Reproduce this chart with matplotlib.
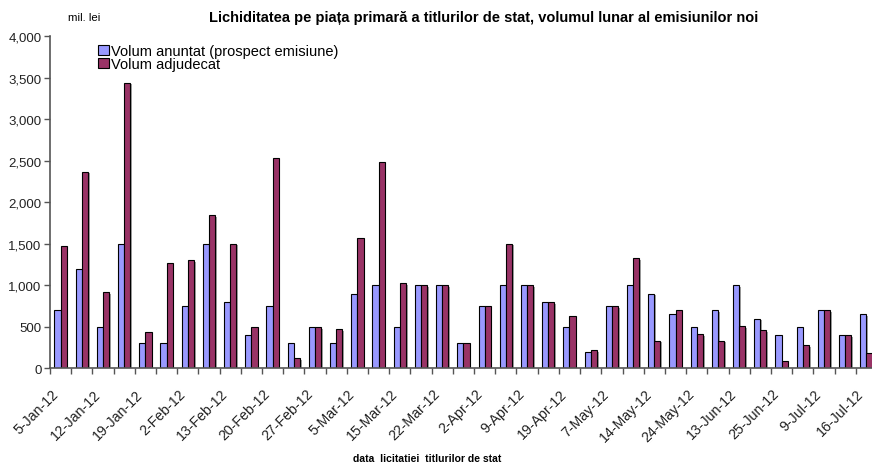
import numpy as np
import matplotlib
matplotlib.use("Agg")
import matplotlib.pyplot as plt
import matplotlib.patheffects as pe
import matplotlib.transforms as mtransforms
from matplotlib.ticker import FuncFormatter, FixedLocator

plt.rcParams['font.family'] = ['Liberation Sans', 'DejaVu Sans']

# labels shown on every second auction date
tick_labels = ["5-Jan-12", "12-Jan-12", "19-Jan-12", "2-Feb-12", "13-Feb-12",
               "20-Feb-12", "27-Feb-12", "5-Mar-12", "15-Mar-12", "22-Mar-12",
               "2-Apr-12", "9-Apr-12", "19-Apr-12", "7-May-12", "14-May-12",
               "24-May-12", "13-Jun-12", "25-Jun-12", "9-Jul-12", "16-Jul-12"]

volum_anuntat = [700, 1200, 500, 1500, 300, 300, 750, 1500, 800, 400,
                 750, 300, 500, 300, 900, 1000, 500, 1000, 1000, 300,
                 750, 1000, 1000, 800, 500, 200, 750, 1000, 900, 650,
                 500, 700, 1000, 600, 400, 500, 700, 400, 650]
volum_adjudecat = [1470, 2370, 915, 3440, 435, 1265, 1300, 1845, 1500, 500,
                   2530, 120, 500, 470, 1565, 2480, 1025, 1000, 1000, 300,
                   750, 1500, 1000, 800, 627, 217, 750, 1325, 335, 700,
                   410, 335, 505, 460, 85, 278, 700, 400, 182]

n = len(volum_anuntat)
x = np.arange(n)
w = 0.29

fig = plt.figure(figsize=(8.72, 4.64), dpi=100)
ax = fig.add_axes([0.0573, 0.204, 1.0057 - 0.0573, 0.9196 - 0.204])

shadow = [pe.SimplePatchShadow(offset=(1.2, -1.2), shadow_rgbFace='#888888', alpha=0.8), pe.Normal()]
b1 = ax.bar(x - w / 2, volum_anuntat, w, color='#9999FF', edgecolor='black',
            linewidth=0.8, label='Volum anuntat (prospect emisiune)')
b2 = ax.bar(x + w / 2, volum_adjudecat, w, color='#993366', edgecolor='black',
            linewidth=0.8, label='Volum adjudecat')
for b in list(b1) + list(b2):
    b.set_path_effects(shadow)

ax.set_xlim(-0.5, n - 0.5)
ax.set_ylim(0, 4000)
ax.set_yticks(np.arange(0, 4001, 500))
ax.yaxis.set_major_formatter(FuncFormatter(lambda v, p: f"{int(v):,}"))

ax.xaxis.set_major_locator(FixedLocator(np.arange(-0.5, n, 1.0)))
ax.set_xticklabels([])
ax.xaxis.set_minor_locator(FixedLocator(x[::2]))
ax.set_xticklabels(tick_labels, minor=True, rotation=45, ha='right',
                   rotation_mode='anchor', fontsize=10.2, color='#222222')
ax.tick_params(axis='x', which='minor', length=0, pad=8)
ax.tick_params(axis='x', which='major', length=4, width=1, color='#555555')
ax.tick_params(axis='y', length=4, width=1, color='#555555', labelsize=9.5,
               labelcolor='#222222', pad=2)

# nudge the rotated date labels left/down like the original
shift = mtransforms.ScaledTranslation(-7 / 72, -5 / 72, fig.dpi_scale_trans)
for lbl in ax.get_xticklabels(minor=True):
    lbl.set_transform(lbl.get_transform() + shift)

for s in ['top', 'right']:
    ax.spines[s].set_visible(False)
for s in ['left', 'bottom']:
    ax.spines[s].set_color('#555555')
    ax.spines[s].set_linewidth(1.2)

leg = ax.legend(loc='upper left', bbox_to_anchor=(0.055, 0.985), frameon=False,
                fontsize=10.5, handlelength=0.7, handleheight=0.7,
                handletextpad=0.2, labelspacing=-0.1, borderpad=0.2,
                borderaxespad=0.0)
for h in leg.legend_handles:
    h.set_path_effects([])

fig.text(0.555, 0.962, "Lichiditatea pe piața primară a titlurilor de stat, volumul lunar al emisiunilor noi",
         ha='center', va='center', fontsize=10.5, fontweight='bold')
fig.text(0.096, 0.962, "mil. lei", ha='center', va='center', fontsize=8.2)
fig.text(0.49, 0.011, "data  licitatiei  titlurilor de stat", ha='center', va='center',
         fontsize=7.5, fontweight='bold')

fig.savefig("out.png", dpi=100)
